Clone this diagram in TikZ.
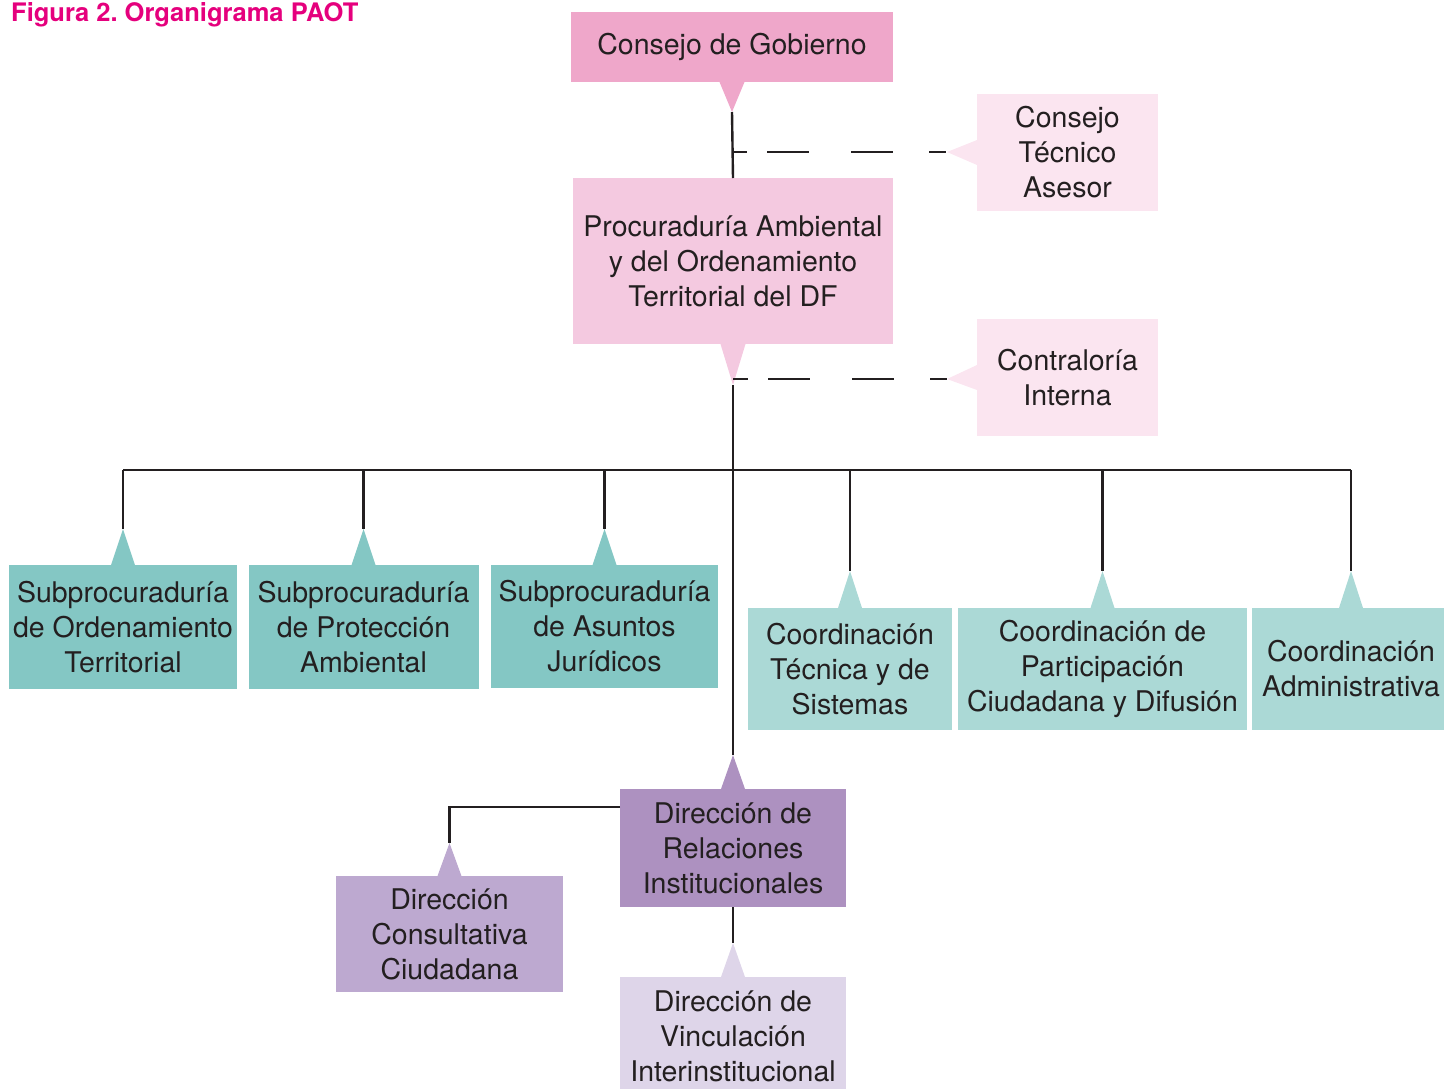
\documentclass[tikz,border=0pt]{standalone}
\usepackage{fontspec}
\setmainfont{TeX Gyre Heros}
\usetikzlibrary{calc}
\definecolor{txt}{HTML}{231F20}
\definecolor{cgcol}{HTML}{EFA7CA}
\definecolor{prcol}{HTML}{F4C9E0}
\definecolor{ltpink}{HTML}{FBE5F0}
\definecolor{tealA}{HTML}{84C7C4}
\definecolor{tealB}{HTML}{ABD9D6}
\definecolor{purA}{HTML}{AD91C0}
\definecolor{purB}{HTML}{BDA9D0}
\definecolor{purC}{HTML}{DED5E9}
\definecolor{title}{HTML}{E5007D}
\frenchspacing
\tikzset{
  box/.style={rectangle, inner sep=0pt, outer sep=0pt, align=center, text=txt,
    font=\fontsize{28.5}{35}\selectfont},
  conn/.style={draw=txt, line width=2.4pt},
  dashconn/.style={draw=txt, line width=2.4pt, dash pattern=on 15pt off 20pt on 42pt off 42pt on 42pt off 36pt on 17pt}
}
\begin{document}
\begin{tikzpicture}[x=1pt,y=-1pt]
\useasboundingbox (0,0) rectangle (1444,1088);
\begin{scope}
\clip (0,0) rectangle (1444,1088);
% boxes
\node[box, fill=cgcol, minimum width=322pt, minimum height=70pt] (cg) at (732,47) {Consejo de Gobierno};
\node[box, fill=ltpink, minimum width=181pt, minimum height=117pt] (cta) at (1067.5,152.5) {Consejo\\Técnico\\Asesor};
\node[box, fill=prcol, minimum width=320pt, minimum height=166pt] (pr) at (733,261) {Procuraduría Ambiental\\y del Ordenamiento\\Territorial del DF};
\node[box, fill=ltpink, minimum width=181pt, minimum height=117pt] (ci) at (1067.5,377.5) {Contraloría\\Interna};
\node[box, fill=tealA, minimum width=228pt, minimum height=124pt] (s1) at (123,627) {Subprocuraduría\\de Ordenamiento\\Territorial};
\node[box, fill=tealA, minimum width=230pt, minimum height=124pt] (s2) at (363.5,627) {Subprocuraduría\\de Protección\\Ambiental};
\node[box, fill=tealA, minimum width=227pt, minimum height=123pt] (s3) at (604.5,626.5) {Subprocuraduría\\de Asuntos\\Jurídicos};
\node[box, fill=tealB, minimum width=204pt, minimum height=122pt] (c1) at (850,669) {Coordinación\\Técnica y de\\Sistemas};
\node[box, fill=tealB, minimum width=289pt, minimum height=122pt] (c2) at (1102.5,669) {Coordinación de\\Participación\\Ciudadana y Difusión};
\node[box, fill=tealB, minimum width=198pt, minimum height=122pt] (c3) at (1351,669) {Coordinación\\Administrativa};
\node[box, fill=purA, minimum width=226pt, minimum height=118pt] (dr) at (733,848) {Dirección de\\Relaciones\\Institucionales};
\node[box, fill=purB, minimum width=227pt, minimum height=116pt] (dc) at (449.5,934) {Dirección\\Consultativa\\Ciudadana};
\node[box, fill=purC, minimum width=226pt, minimum height=118pt] (dv) at (733,1036) {Dirección de\\Vinculación\\Interinstitucional};
% pointer triangles
\fill[cgcol] ($(cg.south)+(-12.5,0)$) -- ($(cg.south)+(12.5,0)$) -- ($(cg.south)+(0,30)$) coordinate (aCG) -- cycle;
\fill[prcol] ($(pr.south)+(-12.5,0)$) -- ($(pr.south)+(12.5,0)$) -- ($(pr.south)+(0,41)$) coordinate (aPR) -- cycle;
\fill[ltpink] ($(cta.west)+(0,-12.5)$) -- ($(cta.west)+(0,12.5)$) -- ($(cta.west)+(-30,-0.5)$) coordinate (aCTA) -- cycle;
\fill[ltpink] ($(ci.west)+(0,-12.5)$) -- ($(ci.west)+(0,12.5)$) -- ($(ci.west)+(-30,1.5)$) coordinate (aCI) -- cycle;
\foreach \n/\c/\h in {s1/tealA/36, s2/tealA/36, s3/tealA/36, c1/tealB/37, c2/tealB/37, c3/tealB/37, dr/purA/34, dc/purB/33, dv/purC/34}{
  \fill[\c] ($(\n.north)+(-12,0)$) -- ($(\n.north)+(12,0)$) -- ($(\n.north)+(0,-\h)$) coordinate (a\n) -- cycle;
}
% connectors
\coordinate (bus) at (733,470);
\draw[conn] (aCG) -- (pr.north);
\draw[conn] (aPR) -- (adr);
\draw[conn] (as1 |- bus) -- (ac3 |- bus);
\foreach \n in {s1,s2,s3,c1,c2,c3}{
  \draw[conn] (a\n |- bus) -- (a\n);
}
\draw[conn] (dr.west |- 0,807) -| (adc);
\draw[conn] (dr.south) -- (adv);
\draw[dashconn] (aCG |- aCTA) -- (aCTA);
\draw[dashconn] (aPR |- aCI) -- (aCI);
% title
\node[anchor=base west, inner sep=0pt, text=title, font=\fontsize{25.5}{28}\selectfont\bfseries] (ttl) at (11,21.5) {Figura 2. Organigrama PAOT};
\end{scope}
\end{tikzpicture}
\end{document}
